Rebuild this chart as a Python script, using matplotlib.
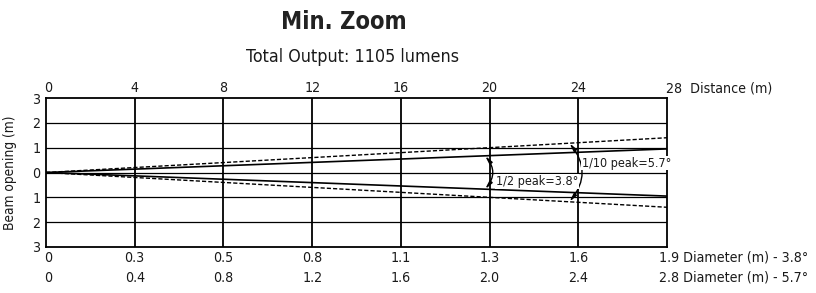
import matplotlib
matplotlib.use("Agg")
import matplotlib.pyplot as plt

distance = [0, 28]
half_peak_radius = [0, 0.95]
tenth_peak_radius = [0, 1.4]
top_ticks = [0, 4, 8, 12, 16, 20, 24, 28]
y_ticks = [3, 2, 1, 0, -1, -2, -3]
y_labels = ["3", "2", "1", "0", "1", "2", "3"]
diam_38 = ["0", "0.3", "0.5", "0.8", "1.1", "1.3", "1.6", "1.9"]
diam_57 = ["0", "0.4", "0.8", "1.2", "1.6", "2.0", "2.4", "2.8"]

plt.rcParams['font.family'] = ['DejaVu Sans']
plt.rcParams['font.stretch'] = 'condensed'
TXT = '#1a1a1a'
fig = plt.figure(figsize=(8.16, 2.93), dpi=100)
ax = fig.add_axes([46/816, 46/293, 621/816, 149/293])
ax.set_xlim(0, 28)
ax.set_ylim(-3, 3)

for x in top_ticks[1:-1]:
    ax.axvline(x, color='black', lw=1.3, zorder=1)
for y in [-2, -1, 0, 1, 2]:
    ax.axhline(y, color='black', lw=0.9, zorder=1)
for s in ax.spines.values():
    s.set_linewidth(1.3)

ax.plot(distance, half_peak_radius, color='black', lw=1.2, zorder=3)
ax.plot(distance, [-v for v in half_peak_radius], color='black', lw=1.2, zorder=3)
ax.plot(distance, tenth_peak_radius, color='black', lw=1.0, ls=(0, (3, 1.5)), zorder=3)
ax.plot(distance, [-v for v in tenth_peak_radius], color='black', lw=1.0, ls=(0, (3, 1.5)), zorder=3)

fs = 10.2
ax.set_xticks([])
ax.set_yticks(y_ticks)
ax.set_yticklabels(y_labels, fontsize=fs, color=TXT)
ax.tick_params(axis='y', length=0, pad=4)
ax.set_ylabel("Beam opening (m)", fontsize=9.8, color=TXT)
ax.yaxis.set_label_coords(-29/621, 0.5)

for i, t in enumerate(top_ticks):
    xoff = 0.1 if i == 0 else 0
    if t == 28:
        ax.text(28 - 0.05, 3.12, "28  Distance (m)", ha='left', va='bottom', fontsize=fs, color=TXT)
    else:
        ax.text(t + xoff, 3.12, str(t), ha='center', va='bottom', fontsize=fs, color=TXT)
for i, (a, b) in enumerate(zip(diam_38, diam_57)):
    t = top_ticks[i]
    xoff = 0.1 if i == 0 else 0
    if i == len(diam_38) - 1:
        ax.text(t - 0.35, -3.15, a + " Diameter (m) - 3.8°", ha='left', va='top', fontsize=fs, color=TXT)
        ax.text(t - 0.35, -3.95, b + " Diameter (m) - 5.7°", ha='left', va='top', fontsize=fs, color=TXT)
    else:
        ax.text(t + xoff, -3.15, a, ha='center', va='top', fontsize=fs, color=TXT)
        ax.text(t + xoff, -3.95, b, ha='center', va='top', fontsize=fs, color=TXT)

# angle arcs
aprops = dict(arrowstyle='<|-|>,head_length=0.45,head_width=0.1', color='black',
              lw=1.0, connectionstyle='arc3,rad=-0.4', shrinkA=0, shrinkB=0)
xh = 19.8
yh = 0.95 * xh / 28
ax.annotate("", xy=(xh, -yh), xytext=(xh, yh), arrowprops=aprops, zorder=4)
xt = 23.6
yt = 1.4 * xt / 28
ax.annotate("", xy=(xt, -yt), xytext=(xt, yt), arrowprops=aprops, zorder=4)
ax.text(20.3, -0.36, "1/2 peak=3.8°", ha='left', va='center', fontsize=9, color=TXT,
        bbox=dict(facecolor='white', edgecolor='none', pad=0.5), zorder=5)
ax.text(24.15, 0.38, "1/10 peak=5.7°", ha='left', va='center', fontsize=9, color=TXT,
        bbox=dict(facecolor='white', edgecolor='none', pad=0.5), zorder=5)

fig.text(344/816, 1 - 22/293, "Min. Zoom", ha='center', va='center', fontsize=17,
         fontweight='bold', color='#222222')
fig.text(352/816, 1 - 57/293, "Total Output: 1105 lumens", ha='center', va='center', fontsize=12.8, color=TXT)

fig.savefig("out.png", dpi=100)
